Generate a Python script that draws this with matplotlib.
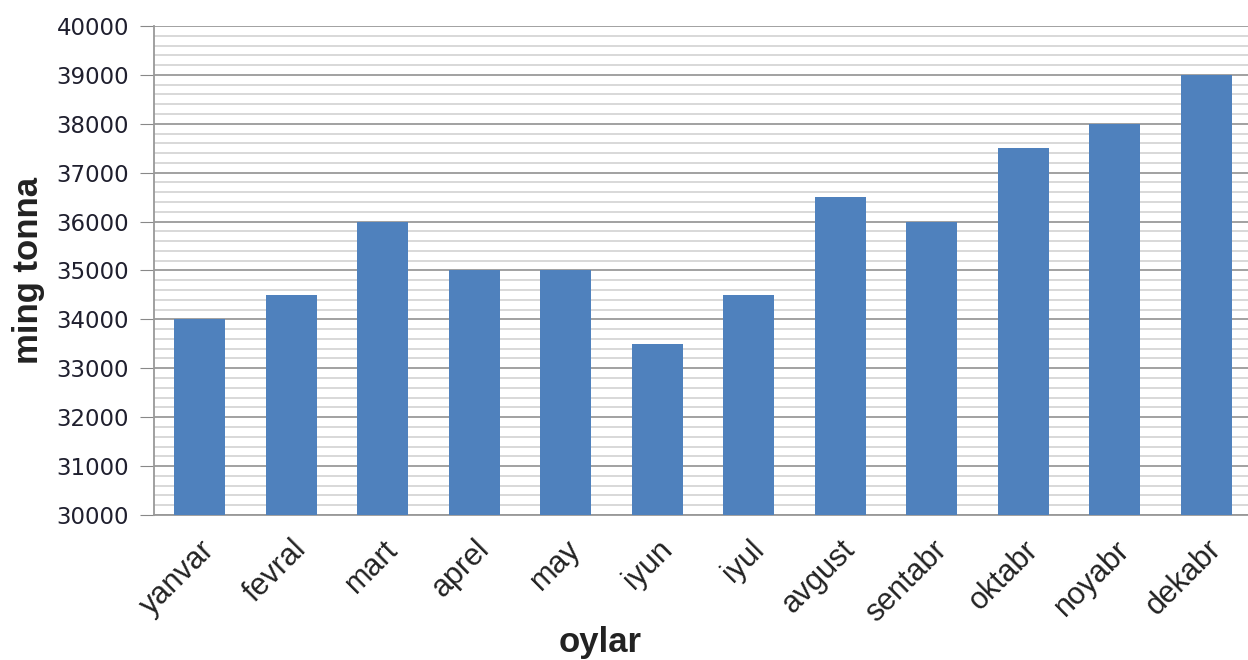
import matplotlib
matplotlib.use("Agg")
import matplotlib.pyplot as plt
from matplotlib.ticker import MultipleLocator

months = ["yanvar", "fevral", "mart", "aprel", "may", "iyun", "iyul",
          "avgust", "sentabr", "oktabr", "noyabr", "dekabr"]
values = [34000, 34500, 36000, 35000, 35000, 33500, 34500,
          36500, 36000, 37500, 38000, 39000]
yticks = list(range(30000, 40001, 1000))

fig = plt.figure(figsize=(12.48, 6.6), dpi=100)
ax = fig.add_axes([0.1234, 0.2197, 0.8798, 0.741])

x = list(range(len(months)))
ax.bar(x, values, width=0.56, color="#4F81BD", zorder=3)
ax.set_xlim(-0.5, len(months) - 0.5)
ax.set_ylim(30000, 40000)
ax.set_yticks(yticks)
ax.set_yticklabels([str(v) for v in yticks], fontsize=16.5, color="#1f1f2e",
                   family="DejaVu Sans")
ax.yaxis.set_minor_locator(MultipleLocator(200))
ax.grid(which="major", axis="y", color="#9a9a9a", linewidth=1.3, zorder=1)
ax.grid(which="minor", axis="y", color="#d6d6d6", linewidth=1.3, zorder=1)
ax.set_xticks(x)
ax.set_xticklabels(months, rotation=45, ha="right", rotation_mode="anchor",
                   fontsize=22, color="#222222", family="Liberation Sans")
ax.tick_params(axis="x", length=0, pad=14)
ax.tick_params(axis="y", which="major", length=10, color="#888888",
               direction="out", pad=8)
ax.tick_params(axis="y", which="minor", length=0)
for s in ["top", "right"]:
    ax.spines[s].set_visible(False)
ax.spines["left"].set_color("#999999")
ax.spines["left"].set_linewidth(1.3)
ax.spines["bottom"].set_color("#999999")
ax.spines["bottom"].set_linewidth(1.3)
ax.set_ylabel("ming tonna", fontsize=25, fontweight="bold",
              family="Liberation Sans", color="#222222")
ax.set_xlabel("oylar", fontsize=25, fontweight="bold",
              family="Liberation Sans", color="#222222")
ax.yaxis.set_label_coords(-0.099, 0.5)
ax.xaxis.set_label_coords(0.406, -0.226)
fig.savefig("out.png", dpi=100)
